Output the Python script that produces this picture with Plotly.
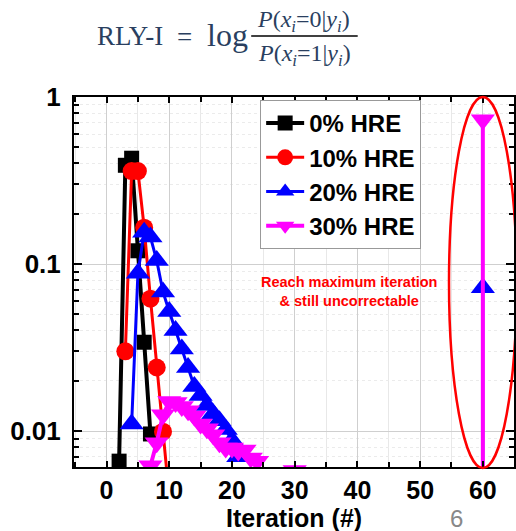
import plotly.graph_objects as go

# ---- data ----
hre0_x = [2, 3, 4, 5, 6, 7]
hre0_y = [0.0066, 0.39, 0.43, 0.12, 0.034, 0.0096]

hre10_x = [3, 4, 5, 6, 7, 8, 9, 10]
hre10_y = [0.030, 0.36, 0.36, 0.165, 0.062, 0.024, 0.0099, 0.004]

hre20_x = [4, 5, 6, 7, 8, 9, 10, 11, 12, 13, 14, 15, 16, 17, 18, 19, 20, 21, None, 60, 60]
hre20_y = [0.011, 0.088, 0.155, 0.145, 0.105, 0.068, 0.052, 0.040, 0.031, 0.024, 0.0185,
           0.0163, 0.0142, 0.0127, 0.0115, 0.0102, 0.0088, 0.0070, None, 0.0001, 0.072]

hre30_x = [7, 8, 9, 10, 11, 12, 13, 14, 15, 16, 17, 18, 19, 20, 21, 22, 23, 24, None, 30, None, 60, 60]
hre30_y = [0.0062, 0.0085, 0.0125, 0.0150, 0.0148, 0.0140, 0.0132, 0.0123, 0.0110, 0.0103,
           0.0095, 0.0085, 0.0079, 0.0079, 0.0076, 0.0077, 0.0069, 0.0066, None, 0.0058, None, 0.0001, 0.73]

series_names = ["0% HRE", "10% HRE", "20% HRE", "30% HRE"]
x_ticks = [0, 10, 20, 30, 40, 50, 60]
y_ticks = [0.01, 0.1, 1]
y_ticktext = ["0.01", "0.1", "1"]

# ---- layout geometry (pixels) ----
W, H = 516, 531
L, R, T, B = 74, 516, 97, 467
PW, PH = R - L, B - T


def px(x):
    return (x - L) / PW


def py(y):
    return (B - y) / PH


styles = [
    dict(color="black", symbol="square", size=15, lw=4),
    dict(color="#ff0000", symbol="circle", size=18, lw=3),
    dict(color="#0000ff", symbol="triangle-up", size=21, lw=3),
    dict(color="#ff00ff", symbol="triangle-down", size=21, lw=4),
]

fig = go.Figure()
for name, xs, ys, st in zip(series_names,
                            [hre0_x, hre10_x, hre20_x, hre30_x],
                            [hre0_y, hre10_y, hre20_y, hre30_y], styles):
    fig.add_trace(go.Scatter(
        x=xs, y=ys, name=name, mode="lines+markers",
        line=dict(color=st["color"], width=st["lw"]),
        marker=dict(color=st["color"], symbol=st["symbol"], size=st["size"],
                    line=dict(width=0)),
        connectgaps=False, cliponaxis=True,
    ))

sans = "Liberation Sans, Arial"
yaxis_font = dict(family=sans, size=26, color="black", weight="bold")
xaxis_font = dict(family=sans, size=25, color="black", weight="bold")

fig.update_layout(
    width=W, height=H,
    margin=dict(l=L, r=W - R, t=T, b=H - B),
    paper_bgcolor="white", plot_bgcolor="white",
    showlegend=True,
    legend=dict(x=px(261), y=py(100), xanchor="left", yanchor="top",
                bgcolor="white", bordercolor="#999999", borderwidth=1,
                font=dict(family=sans, size=24, color="black", weight="bold"),
                tracegroupgap=0, itemsizing="trace", itemwidth=38),
    xaxis=dict(
        range=[(L - 106.7) / 6.3, (R - 106.7) / 6.3],
        tickvals=x_ticks, ticks="inside", ticklen=6, tickwidth=2, tickcolor="black",
        showline=True, linecolor="black", linewidth=2, mirror="ticks",
        showgrid=True, gridcolor="#cfcfcf", gridwidth=1,
        zeroline=False, tickfont=xaxis_font, ticklabelstandoff=0,
        minor=dict(dtick=5, tick0=0, ticks="inside", ticklen=5, tickwidth=2,
                   tickcolor="black", showgrid=True, gridcolor="#e8e8e8", gridwidth=1),
    ),
    yaxis=dict(
        type="log", range=[-(B - T) / 167.0, 0],
        tickvals=y_ticks, ticktext=y_ticktext,
        ticks="inside", ticklen=8, tickwidth=2, tickcolor="black",
        showline=True, linecolor="black", linewidth=2, mirror="ticks",
        showgrid=True, gridcolor="#cfcfcf", gridwidth=1,
        zeroline=False, tickfont=yaxis_font, ticklabelstandoff=6,
        minor=dict(dtick="D1", ticks="inside", ticklen=5, tickwidth=2, tickcolor="black",
                   showgrid=True, gridcolor="#ebebeb", gridwidth=1, griddash="dot"),
    ),
)

# ellipse around the max-iteration points
fig.add_shape(type="circle", xref="x", yref="paper",
              x0=60 - 34 / 6.3, x1=60 + 34 / 6.3, y0=py(468), y1=py(97),
              line=dict(color="#ff0000", width=2.5), layer="above")

serif = "Liberation Serif, DejaVu Serif, serif"
anns = [
    dict(text="RLY-I", x=px(95), y=py(36), xanchor="left", font=dict(family=serif, size=27)),
    dict(text="=", x=px(185.5), y=py(37), xanchor="center", font=dict(family=serif, size=27)),
    dict(text="log", x=px(206), y=py(35), xanchor="left", font=dict(family=serif, size=32)),
    dict(text="<i>P</i>(<i>x<sub>i</sub></i>=0|<i>y<sub>i</sub></i>)", x=px(305), y=py(21),
         xanchor="center", font=dict(family=serif, size=24)),
    dict(text="<i>P</i>(<i>x<sub>i</sub></i>=1|<i>y<sub>i</sub></i>)", x=px(306), y=py(55),
         xanchor="center", font=dict(family=serif, size=24)),
    dict(text="Reach maximum iteration<br>& still uncorrectable", x=px(350), y=py(291),
         xanchor="center", font=dict(family=sans, size=14.5, color="#ff0000", weight="bold")),
    dict(text="Iteration (#)", x=px(295), y=py(518), xanchor="center",
         font=dict(family=sans, size=25, color="black", weight="bold")),
    dict(text="6", x=px(458), y=py(518), xanchor="center",
         font=dict(family=sans, size=24, color="#888888")),
]
for a in anns:
    fig.add_annotation(xref="paper", yref="paper", yanchor="middle", showarrow=False, **a)

fig.add_shape(type="line", xref="paper", yref="paper",
              x0=px(252), x1=px(359), y0=py(36), y1=py(36),
              line=dict(color="black", width=1.5))

fig.write_html("out.html")
